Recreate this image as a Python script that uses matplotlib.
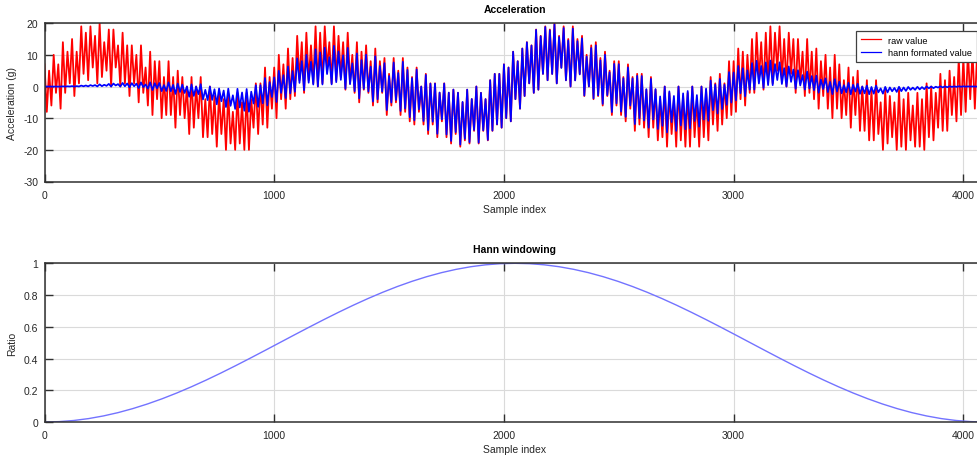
import numpy as np
import matplotlib
matplotlib.use("Agg")
import matplotlib.pyplot as plt

plt.rcParams['font.family'] = ['Liberation Sans', 'DejaVu Sans']
plt.rcParams['axes.unicode_minus'] = False

# ---- data ----
sample_step = 10  # raw samples shown every 10 indices
raw_values = [
    7, -8, 5, -6, 10, -2, 7, -7, 14, -2, 11, 1, 15, -3, 11, 1, 19, 4, 17, 2,
    19, 6, 16, 1, 20, 3, 14, 5, 18, 0, 18, 6, 13, 0, 17, 1, 13, -3, 13, 1,
    10, -5, 13, -2, 6, -6, 11, -9, 8, -4, 8, -10, 3, -9, 8, -9, 3, -13, 5, -9,
    3, -10, 0, -15, 3, -13, 0, -10, 3, -16, -4, -16, 0, -15, -3, -19, -2, -15, -4, -20,
    -2, -18, -8, -20, -2, -18, -5, -20, -2, -20, -4, -13, 1, -15, 1, -12, 6, -13, 3, -7,
    6, -10, 10, -4, 7, -7, 12, -4, 9, -3, 16, 2, 14, -2, 17, 2, 13, 1, 19, 0,
    17, 1, 19, 6, 14, 1, 19, 2, 16, 3, 14, -1, 17, 1, 10, -2, 14, -5, 11, -1,
    13, -2, 8, -6, 12, -5, 8, -2, 9, -9, 4, -6, 9, -5, 5, -9, 9, -8, 6, -11,
    3, -12, 6, -8, 0, -12, 4, -15, 1, -12, 1, -16, -2, -11, 1, -16, -2, -18, -1, -15,
    -2, -19, -5, -17, -1, -18, -4, -14, 0, -18, -2, -14, -4, -17, 2, -14, 4, -12, 4, -13,
    7, -10, 6, -11, 11, -4, 8, -7, 12, -3, 14, 1, 13, -2, 18, -1, 16, 4, 19, 2,
    18, 4, 20, 1, 16, 6, 19, 2, 15, 0, 19, 2, 15, 4, 16, -3, 10, 0, 13, -4,
    14, -3, 9, -6, 11, -3, 5, -9, 8, -6, 8, -9, 3, -11, 7, -7, 3, -14, 4, -12,
    4, -13, -1, -16, 3, -13, -1, -17, -4, -16, 0, -19, -2, -15, -4, -19, 0, -17, -3, -19,
    -2, -19, 0, -16, -4, -19, 0, -16, -1, -17, 3, -12, 1, -14, 4, -12, 1, -10, 8, -9,
    8, -8, 12, -4, 11, -6, 10, -2, 15, -2, 17, 2, 14, -1, 17, 1, 19, 1, 17, 5,
    19, 2, 15, 0, 17, 4, 15, -2, 15, 1, 11, -3, 15, -2, 11, -4, 12, -7, 8, -3,
    10, -7, 6, -10, 10, -7, 7, -10, 2, -9, 6, -13, 3, -9, 5, -14, 0, -14, 2, -17,
    -1, -17, 2, -15, -5, -20, -1, -18, -3, -16, -5, -20, -1, -19, -4, -20, -2, -17, -6, -19,
    -2, -19, -4, -20, 1, -16, 0, -17, -2, -13, 4, -14, 2, -14, 5, -9, 3, -11, 9, -9,
    9, -8, 11, -4, 11, -7, 11, -2, 14, -3,
]
hann_step = 64
hann_values = [
    0.0, 0.0024, 0.0096, 0.0215, 0.0381, 0.0590, 0.0843, 0.1135,
    0.1464, 0.1828, 0.2222, 0.2643, 0.3087, 0.3549, 0.4025, 0.4510,
    0.5, 0.5490, 0.5975, 0.6451, 0.6913, 0.7357, 0.7778, 0.8172,
    0.8536, 0.8865, 0.9157, 0.9410, 0.9619, 0.9785, 0.9904, 0.9976,
    1.0,
    0.9976, 0.9904, 0.9785, 0.9619, 0.9410, 0.9157, 0.8865, 0.8536,
    0.8172, 0.7778, 0.7357, 0.6913, 0.6451, 0.5975, 0.5490, 0.5,
    0.4510, 0.4025, 0.3549, 0.3087, 0.2643, 0.2222, 0.1828, 0.1464,
    0.1135, 0.0843, 0.0590, 0.0381, 0.0215, 0.0096, 0.0024, 0.0,
]
x_ticks = [0, 1000, 2000, 3000, 4000]
acc_ticks = [-30, -20, -10, 0, 10, 20]
ratio_ticks = [0, 0.2, 0.4, 0.6, 0.8, 1]
ratio_labels = ["0", "0.2", "0.4", "0.6", "0.8", "1"]

raw = np.array(raw_values, dtype=float)
raw_x = np.arange(len(raw)) * sample_step
hann = np.array(hann_values)
hann_x = np.arange(len(hann)) * hann_step
hann_formatted = raw * np.interp(raw_x, hann_x, hann)

# ---- figure ----
W, H = 978, 460
fig = plt.figure(figsize=(W / 100, H / 100), dpi=100)
left = 44.5 / W
width = 940.9 / W
ax1 = fig.add_axes([left, (H - 182.5) / H, width, 158.3 / H])
ax2 = fig.add_axes([left, (H - 423.0) / H, width, 158.7 / H])

FS = 7.5
spine_col = '#303030'


def style(ax):
    ax.set_xlim(0, 4096)
    ax.set_xticks(x_ticks)
    ax.grid(True, color='#dadada', linewidth=0.8)
    ax.set_axisbelow(True)
    for s in ax.spines.values():
        s.set_color(spine_col)
        s.set_linewidth(1.1)
    ax.tick_params(direction='in', length=6, width=1.0, color=spine_col,
                   top=True, right=True, labelsize=FS, labelcolor='#262626')
    ax.tick_params(axis='x', pad=6)
    ax.tick_params(axis='y', pad=4.5)


ax1.plot(raw_x, raw, color='#ff0000', linewidth=1.3, label='raw value')
ax1.plot(raw_x, hann_formatted, color='#0000ff', linewidth=1.25,
         label='hann formated value')
style(ax1)
ax1.set_ylim(-30, 20)
ax1.set_yticks(acc_ticks)
ax1.set_title('Acceleration', fontsize=FS, fontweight='bold', pad=8)
ax1.set_xlabel('Sample index', fontsize=FS, labelpad=3, color='#262626')
ax1.set_ylabel('Acceleration (g)', fontsize=FS, labelpad=4.5, color='#262626')
leg = ax1.legend(loc='upper right', bbox_to_anchor=(977 / W, 1 - 32 / H),
                 bbox_transform=fig.transFigure, borderaxespad=0,
                 fontsize=6.6, fancybox=False, framealpha=1,
                 edgecolor='#404040', handlelength=2.2, handletextpad=0.8,
                 borderpad=0.5, labelspacing=0.4)
leg.get_frame().set_linewidth(0.9)
for line in leg.get_lines():
    line.set_linewidth(0.9)

ax2.plot(hann_x, hann, color='#7373ff', linewidth=1.0)
style(ax2)
ax2.set_ylim(0, 1)
ax2.set_yticks(ratio_ticks)
ax2.set_yticklabels(ratio_labels)
ax2.set_title('Hann windowing', fontsize=FS, fontweight='bold', pad=8)
ax2.set_xlabel('Sample index', fontsize=FS, labelpad=3, color='#262626')
ax2.set_ylabel('Ratio', fontsize=FS, labelpad=4.5, color='#262626')

fig.savefig('out.png', dpi=100)
